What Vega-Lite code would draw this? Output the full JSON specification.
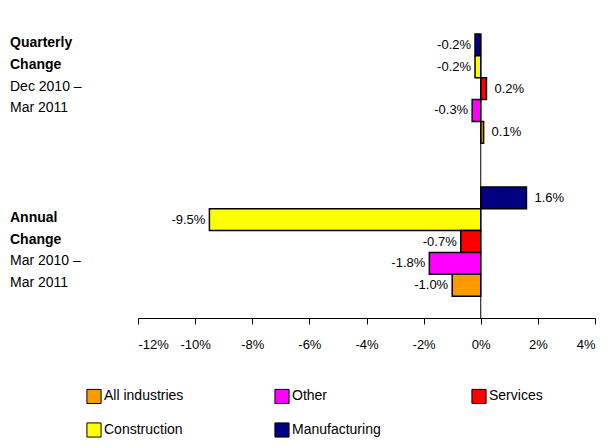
{
  "$schema": "https://vega.github.io/schema/vega-lite/v6.json",
  "autosize": "none",
  "width": 457,
  "height": 284,
  "padding": {"left": 138, "top": 34, "right": 13, "bottom": 129},
  "background": "white",
  "config": {
    "font": "Liberation Sans",
    "view": {"stroke": null},
    "axis": {"labelFont": "Liberation Sans", "labelFontSize": 13, "labelColor": "black"}
  },
  "datasets": {
    "bars": [
      {"slot": "Q_M", "sector": "Manufacturing", "change": -0.2},
      {"slot": "Q_C", "sector": "Construction", "change": -0.2},
      {"slot": "Q_S", "sector": "Services", "change": 0.2},
      {"slot": "Q_O", "sector": "Other", "change": -0.3},
      {"slot": "Q_A", "sector": "All industries", "change": 0.1},
      {"slot": "A_M", "sector": "Manufacturing", "change": 1.6},
      {"slot": "A_C", "sector": "Construction", "change": -9.5},
      {"slot": "A_S", "sector": "Services", "change": -0.7},
      {"slot": "A_O", "sector": "Other", "change": -1.8},
      {"slot": "A_A", "sector": "All industries", "change": -1.0}
    ],
    "notes": [
      {"slot": "Q_M", "text": "Quarterly", "bold": true},
      {"slot": "Q_C", "text": "Change", "bold": true},
      {"slot": "Q_S", "text": "Dec 2010 –", "bold": false},
      {"slot": "Q_O", "text": "Mar 2011", "bold": false},
      {"slot": "A_C", "text": "Annual", "bold": true},
      {"slot": "A_S", "text": "Change", "bold": true},
      {"slot": "A_O", "text": "Mar 2010 –", "bold": false},
      {"slot": "A_A", "text": "Mar 2011", "bold": false}
    ]
  },
  "layer": [
    {
      "data": {"name": "bars"},
      "mark": {"type": "bar", "stroke": "black", "strokeWidth": 1.5},
      "encoding": {
        "y": {
          "field": "slot", "type": "ordinal",
          "scale": {"domain": ["Q_M","Q_C","Q_S","Q_O","Q_A","g1","g2","A_M","A_C","A_S","A_O","A_A","g3"], "paddingInner": 0, "paddingOuter": 0},
          "axis": null
        },
        "x": {
          "field": "change", "type": "quantitative",
          "scale": {"domain": [-12, 4], "nice": false},
          "axis": {"values": [-12,-10,-8,-6,-4,-2,0,2,4], "labelExpr": "datum.value + '%'", "title": null, "grid": false, "domainColor": "black", "tickColor": "black", "tickSize": 6, "labelPadding": 14}
        },
        "color": {
          "field": "sector", "type": "nominal",
          "scale": {"domain": ["All industries", "Other", "Services", "Construction", "Manufacturing"], "range": ["#FF9900", "#FF00FF", "#FF0000", "#FFFF00", "#000080"]},
          "legend": {
            "title": null, "orient": "none", "legendX": -52, "legendY": 354, "direction": "horizontal", "columns": 3,
            "symbolType": "square", "symbolSize": 200, "symbolStrokeColor": "black", "symbolStrokeWidth": 1,
            "labelFontSize": 14, "labelColor": "black", "columnPadding": 88, "rowPadding": 14,
            "labelLimit": 200, "labelOffset": 2
          }
        }
      }
    },
    {
      "data": {"name": "bars"},
      "transform": [{"filter": "datum.change < 0"}, {"calculate": "replace(format(datum.change, '.1f'), '−', '-') + '%'", "as": "lab"}],
      "mark": {"type": "text", "align": "right", "dx": -4, "fontSize": 13},
      "encoding": {
        "y": {"field": "slot", "type": "ordinal"},
        "x": {"field": "change", "type": "quantitative"},
        "text": {"field": "lab"}
      }
    },
    {
      "data": {"name": "bars"},
      "transform": [{"filter": "datum.change >= 0"}, {"calculate": "format(datum.change, '.1f') + '%'", "as": "lab"}],
      "mark": {"type": "text", "align": "left", "dx": 8, "fontSize": 13},
      "encoding": {
        "y": {"field": "slot", "type": "ordinal"},
        "x": {"field": "change", "type": "quantitative"},
        "text": {"field": "lab"}
      }
    },
    {
      "data": {"values": [{"z": 0}]},
      "mark": {"type": "rule", "color": "black", "strokeWidth": 1},
      "encoding": {"x": {"field": "z", "type": "quantitative"}}
    },
    {
      "data": {"name": "notes"},
      "transform": [{"filter": "datum.bold"}],
      "mark": {"type": "text", "align": "left", "dx": -128, "dy": -2, "fontSize": 14, "fontWeight": "bold"},
      "encoding": {
        "y": {"field": "slot", "type": "ordinal"},
        "x": {"datum": -12},
        "text": {"field": "text"}
      }
    },
    {
      "data": {"name": "notes"},
      "transform": [{"filter": "!datum.bold"}],
      "mark": {"type": "text", "align": "left", "dx": -128, "dy": -2, "fontSize": 14},
      "encoding": {
        "y": {"field": "slot", "type": "ordinal"},
        "x": {"datum": -12},
        "text": {"field": "text"}
      }
    }
  ]
}
